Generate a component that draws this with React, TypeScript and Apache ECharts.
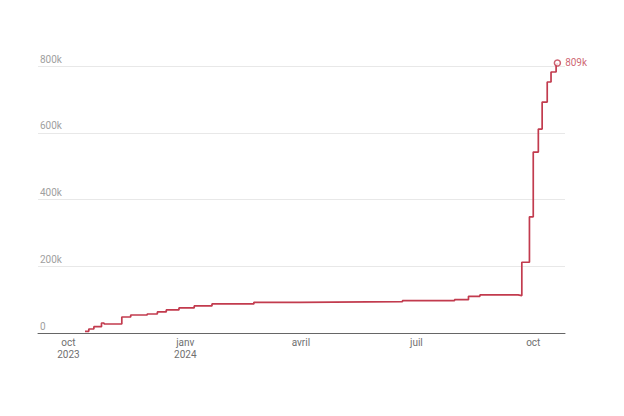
import React, { useEffect, useRef } from 'react';
import * as echarts from 'echarts';

// Cumulative total, step dates (year, month 1-12, day) and values
const stepDates: Array<[number, number, number]> = [
  [2023, 10, 14], [2023, 10, 17], [2023, 10, 21], [2023, 10, 27], [2023, 10, 29],
  [2023, 11, 12], [2023, 11, 19], [2023, 12, 2], [2023, 12, 10], [2023, 12, 17],
  [2023, 12, 27], [2024, 1, 8], [2024, 1, 22], [2024, 2, 24], [2024, 3, 31],
  [2024, 6, 20], [2024, 7, 31], [2024, 8, 11], [2024, 8, 20], [2024, 9, 19],
  [2024, 9, 22], [2024, 9, 28], [2024, 10, 1], [2024, 10, 5], [2024, 10, 8],
  [2024, 10, 12], [2024, 10, 15], [2024, 10, 19], [2024, 10, 20],
];
const stepValues = [
  5000, 12000, 19000, 30000, 27000,
  48000, 54000, 57000, 63000, 69000,
  75000, 81000, 87000, 92000, 94000,
  97000, 100000, 110000, 114000, 112000,
  212000, 348000, 542000, 611000, 692000,
  752000, 782000, 805000, 809000,
];

const tickDates: Array<[number, number, number]> = [
  [2023, 10, 1], [2024, 1, 1], [2024, 4, 1], [2024, 7, 1], [2024, 10, 1],
];
const monthNames = ['janv', 'févr', 'mars', 'avril', 'mai', 'juin', 'juil', 'août', 'sept', 'oct', 'nov', 'déc'];

const ts = (d: [number, number, number]) => new Date(d[0], d[1] - 1, d[2]).getTime();

const RED = '#c23b4e';

const App: React.FC = () => {
  const chartRef = useRef<HTMLDivElement>(null);

  useEffect(() => {
    document.body.style.margin = '0';
    if (!chartRef.current) return;
    const chart = echarts.init(chartRef.current, undefined, { renderer: 'svg' });

    const data = stepDates.map((d, i) => [ts(d), stepValues[i]]);
    const last = data.length - 1;
    const tickTs = tickDates.map(ts);

    chart.setOption({
      animation: false,
      backgroundColor: '#ffffff',
      textStyle: { fontFamily: 'Roboto, sans-serif' },
      grid: { left: 38, right: 59, top: 66, bottom: 83 },
      xAxis: {
        type: 'value',
        min: ts([2023, 9, 7]),
        max: ts([2024, 10, 26]),
        axisLine: { show: true, onZero: false, lineStyle: { color: '#666666', width: 1 } },
        axisTick: { show: false },
        splitLine: { show: false },
        axisLabel: {
          customValues: tickTs,
          color: '#707070',
          fontSize: 10,
          lineHeight: 12,
          margin: 3,
          hideOverlap: false,
          formatter: (v: number) => {
            const d = new Date(v);
            const m = monthNames[d.getMonth()];
            const i = tickTs.indexOf(v);
            return i <= 1 ? `${m}\n${d.getFullYear()}` : m;
          },
        },
      },
      yAxis: {
        type: 'value',
        min: 0,
        max: 800000,
        interval: 200000,
        axisLine: { show: false },
        axisTick: { show: false },
        splitLine: {
          show: true,
          lineStyle: { color: '#e8e8e8', width: 1 },
          showMinLine: false,
        },
        axisLabel: {
          inside: true,
          margin: 2,
          verticalAlign: 'bottom',
          padding: [0, 0, 2, 0],
          color: '#a0a0a0',
          fontSize: 10,
          formatter: (v: number) => (v === 0 ? '0' : `${v / 1000}k`),
        },
      },
      series: [
        {
          type: 'line',
          step: 'end',
          clip: false,
          data,
          showSymbol: false,
          symbol: 'none',
          lineStyle: { color: RED, width: 1.7 },
          emphasis: { disabled: true },
          z: 2,
        },
        {
          type: 'scatter',
          clip: false,
          data: [data[last]],
          symbol: 'circle',
          symbolSize: 6,
          itemStyle: { color: '#ffffff', borderColor: RED, borderWidth: 1.5 },
          label: {
            show: true,
            position: 'right',
            distance: 4,
            color: RED,
            fontSize: 10,
            formatter: () => `${Math.round(stepValues[last] / 1000)}k`,
          },
          emphasis: { disabled: true },
          z: 3,
        },
      ],
    });

    return () => {
      chart.dispose();
    };
  }, []);

  return <div ref={chartRef} style={{ width: '624px', height: '416px' }} />;
};

export default App;
